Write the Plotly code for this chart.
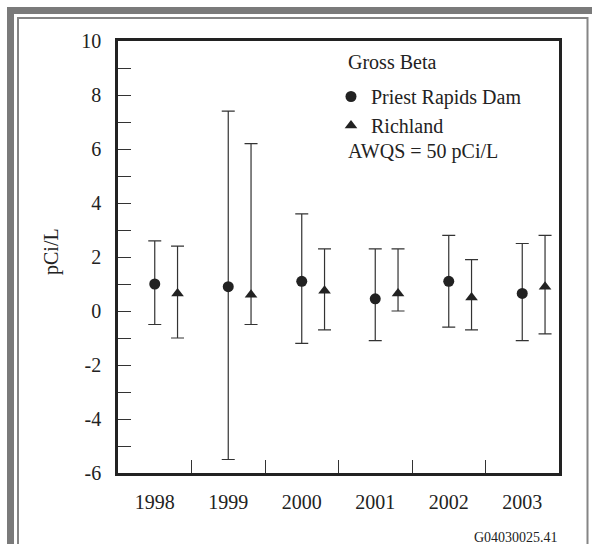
import plotly.graph_objects as go

# Gross beta, pCi/L
years = ["1998", "1999", "2000", "2001", "2002", "2003"]

prd_value = [1.0, 0.9, 1.1, 0.45, 1.1, 0.65]
prd_upper = [2.6, 7.4, 3.6, 2.3, 2.8, 2.5]
prd_lower = [-0.5, -5.5, -1.2, -1.1, -0.6, -1.1]

rich_value = [0.65, 0.6, 0.75, 0.65, 0.5, 0.9]
rich_upper = [2.4, 6.2, 2.3, 2.3, 1.9, 2.8]
rich_lower = [-1.0, -0.5, -0.7, 0.0, -0.7, -0.85]

y_tickvals = [-6, -4, -2, 0, 2, 4, 6, 8, 10]
y_ticktext = ["-6", "-4", "-2", "0", "2", "4", "6", "8", "10"]

FONT = "Liberation Serif, Times New Roman, Times, serif"
INK = "#222222"

# plot area in pixels: x 118..559, y 41..473
def px(x):
    return (x - 118) / 441

def py(y):
    return (473 - y) / 432

fig = go.Figure()

def add_series(values, upper, lower, offset, symbol, name):
    x = [i + offset for i in range(len(values))]
    fig.add_trace(go.Scatter(
        x=x, y=values, mode="markers", name=name,
        marker=dict(symbol=symbol, size=11, color=INK),
        error_y=dict(type="data", symmetric=False,
                     array=[u - v for u, v in zip(upper, values)],
                     arrayminus=[v - l for v, l in zip(values, lower)],
                     color="#333333", thickness=1.2, width=6.5),
    ))

add_series(prd_value, prd_upper, prd_lower, 0.0, "circle", "Priest Rapids Dam")
add_series(rich_value, rich_upper, rich_lower, 0.31, "triangle-up", "Richland")

# frame around the figure
fig.add_shape(type="rect", xref="paper", yref="paper",
              x0=px(10.5), x1=px(620), y0=py(560), y1=py(10.5),
              line=dict(color="#7a7a7a", width=7), layer="below")
fig.add_shape(type="rect", xref="paper", yref="paper",
              x0=px(18), x1=px(587.5), y0=py(570), y1=py(18),
              line=dict(color="#858585", width=2), layer="below")

fig.add_annotation(text="Gross Beta", x=px(346), y=py(62), xref="paper", yref="paper",
                   xanchor="left", yanchor="middle", showarrow=False)
fig.add_annotation(text="AWQS = 50 pCi/L", x=px(346), y=py(151), xref="paper", yref="paper",
                   xanchor="left", yanchor="middle", showarrow=False)
fig.add_annotation(text="pCi/L", x=px(51), y=py(252), xref="paper", yref="paper",
                   textangle=-90, xanchor="center", yanchor="middle", showarrow=False)
fig.add_annotation(text="G04030025.41", x=px(560), y=py(537), xref="paper", yref="paper",
                   xanchor="right", yanchor="middle", showarrow=False,
                   font=dict(size=14))

fig.update_layout(
    width=592, height=544,
    margin=dict(l=118, r=33, t=41, b=71),
    paper_bgcolor="white", plot_bgcolor="white",
    font=dict(family=FONT, size=20, color=INK),
    showlegend=True,
    legend=dict(x=px(331), y=py(77), xanchor="left", yanchor="top",
                bgcolor="rgba(0,0,0,0)", font=dict(size=20)),
    xaxis=dict(
        range=[-0.5, 5.5], tickvals=list(range(len(years))), ticktext=years,
        ticks="", showgrid=False, zeroline=False,
        showline=True, linecolor=INK, linewidth=2.5, mirror=True,
        ticklabelstandoff=9,
        minor=dict(tickvals=[i + 0.5 for i in range(len(years) - 1)],
                   ticks="inside", ticklen=13, tickwidth=1.2, tickcolor="#333333",
                   showgrid=False),
    ),
    yaxis=dict(
        range=[-6, 10], tickvals=y_tickvals, ticktext=y_ticktext,
        ticks="inside", ticklen=13, tickwidth=1.2, tickcolor="#333333",
        showgrid=False, zeroline=False,
        showline=True, linecolor=INK, linewidth=2.5, mirror=True,
        ticklabelstandoff=10,
        minor=dict(dtick=1, ticks="inside", ticklen=13, tickwidth=1.2,
                   tickcolor="#333333", showgrid=False),
    ),
)

fig.write_html("out.html", config={"displayModeBar": False},
               post_script="document.body.style.margin='0';")
